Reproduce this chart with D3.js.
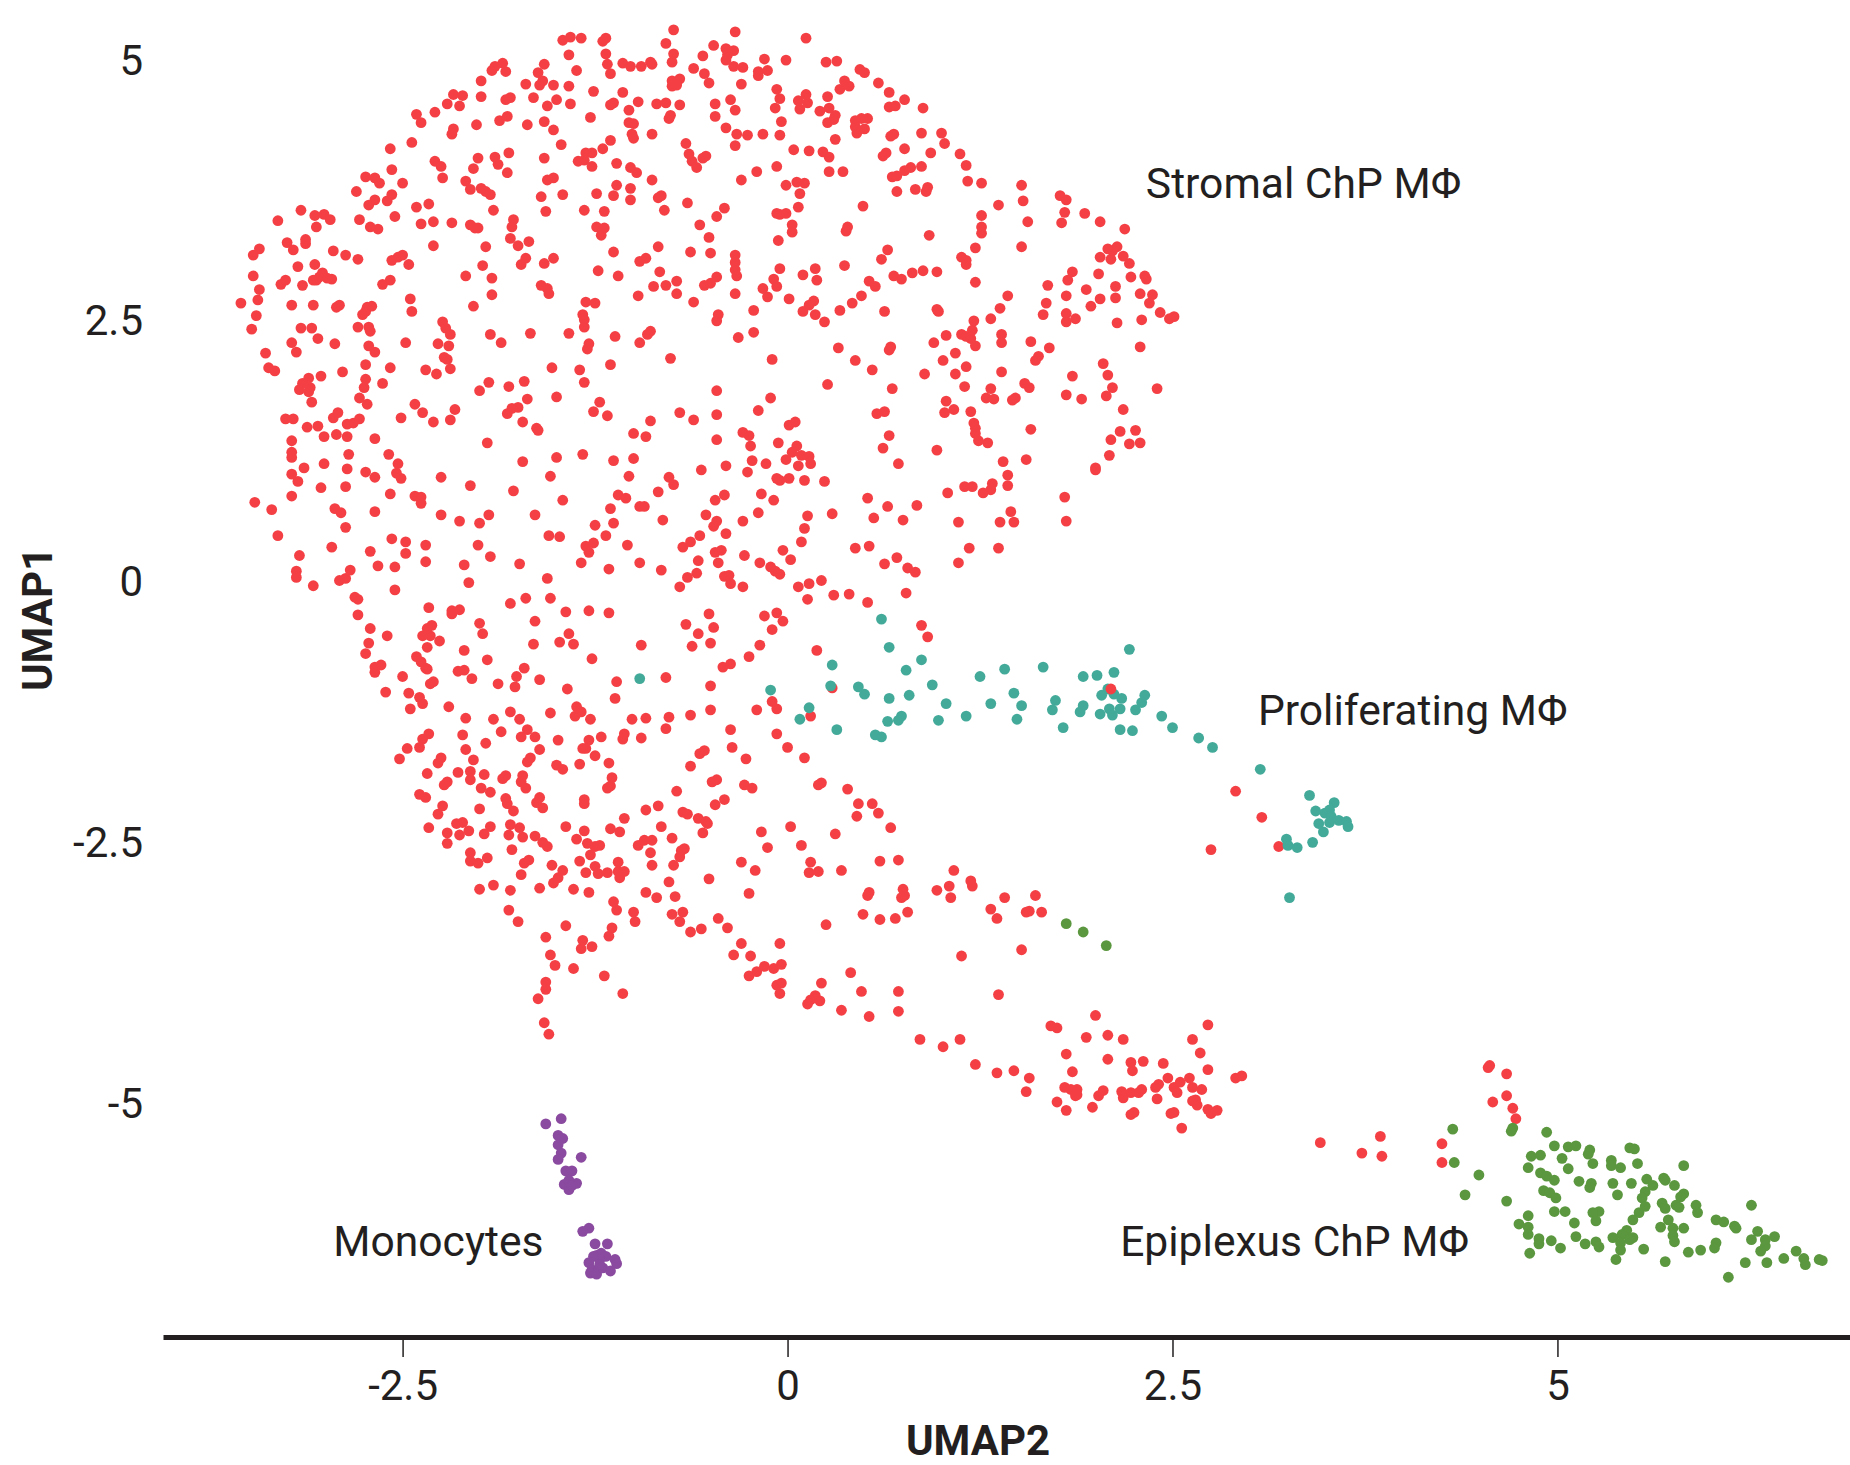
<!DOCTYPE html>
<html>
<head>
<meta charset="utf-8">
<script src="https://cdnjs.cloudflare.com/ajax/libs/d3/7.8.5/d3.min.js"></script>
<style>
body { margin: 0; background: #fff; }
text { font-family: Roboto, sans-serif; fill: #231f20; }
</style>
</head>
<body>
<svg id="chart"></svg>
<script>
// cells: [UMAP2, UMAP1]
var stromal = [
[-1.46,5.18],[-1.41,5.21],[-1.34,5.20],[-1.20,5.17],[-1.18,5.20],[-0.74,5.28],[-0.79,5.15],[-0.48,5.13],[-1.42,5.04],[-1.18,5.05],[-0.74,5.05],[-0.55,5.03],
[-1.85,4.96],[-1.90,4.93],[-1.92,4.89],[-1.83,4.88],[-1.58,4.95],[-1.62,4.87],[-1.37,4.89],[-1.17,4.95],[-1.15,4.86],[-1.07,4.96],[-1.02,4.93],[-0.95,4.93],[-0.89,4.97],[-0.88,4.95],[-0.75,4.97],[-0.61,4.91],[-0.54,4.86],[-0.51,4.77],[-0.70,4.81],[-0.75,4.79],[-0.72,4.75],[-0.75,4.74],
[-1.99,4.79],[-1.70,4.76],[-1.59,4.79],[-1.61,4.75],[-1.52,4.75],[-1.42,4.74],[-1.26,4.69],[-1.07,4.68],[-2.17,4.66],[-2.11,4.65],[-1.99,4.64],[-1.80,4.63],[-1.83,4.61],[-1.65,4.63],[-1.50,4.61],[-2.21,4.57],[-2.13,4.55],[-1.56,4.55],[-1.41,4.57],[-1.15,4.56],[-1.13,4.58],[-0.97,4.59],[-1.03,4.51],[-0.85,4.57],[-0.79,4.58],[-0.70,4.56],[-0.47,4.57],[-0.47,4.45],
[-2.41,4.47],[-2.29,4.49],[-2.38,4.39],[-1.28,4.44],[-0.76,4.46],[-0.77,4.43],[-1.82,4.45],[-1.87,4.41],[-2.02,4.37],[-1.69,4.37],[-1.58,4.40],[-1.52,4.32],[-1.03,4.39],[-1.00,4.38],[-2.17,4.33],[-2.18,4.28],[-1.01,4.28],[-1.00,4.24],[-0.88,4.28],[-2.44,4.20],[-1.15,4.22],[-1.47,4.18],[-0.66,4.19],[-1.20,4.14],[-2.58,4.14],[-1.81,4.10],[-1.90,4.06],[-2.01,4.05],[-1.31,4.10],[-1.27,4.10],[-0.64,4.09],[-0.53,4.07],[-0.55,4.05],[-1.58,4.05],[-2.29,4.02],[-1.36,4.02],[-1.32,4.03],[-0.62,4.02],[-1.11,4.00],[-2.25,3.97],[-1.88,3.99],[-2.04,3.95],[-1.27,3.97],[-1.02,3.96],[-0.59,3.96],[-2.57,3.94],[-1.82,3.91],[-0.98,3.91],
[-2.74,3.87],[-2.68,3.86],[-2.65,3.81],[-2.24,3.86],[-1.52,3.86],[-1.56,3.84],[-0.88,3.84],[-2.09,3.83],[-2.50,3.81],[-1.99,3.76],[-1.96,3.73],[-1.93,3.70],[-2.06,3.75],[-1.11,3.79],[-1.02,3.76],[-2.80,3.73],[-2.57,3.70],[-2.60,3.64],[-1.60,3.68],[-1.46,3.70],[-1.24,3.71],[-1.13,3.69],[-0.82,3.69],[-0.84,3.67],[-2.68,3.65],[-2.72,3.60],[-1.02,3.65],[-0.65,3.62],[-2.41,3.58],[-2.33,3.61],[-3.16,3.55],[-1.91,3.55],[-1.57,3.54],[-1.32,3.55],[-1.19,3.54],[-0.80,3.55],[-3.07,3.50],[-3.01,3.51],[-2.97,3.46],[-2.55,3.49],[-3.31,3.45],[-2.78,3.46],[-0.46,3.49],[-1.78,3.46],[-1.79,3.39],[-2.38,3.42],[-2.30,3.44],[-2.18,3.43],[-2.06,3.41],[-2.03,3.38],[-2.01,3.38],[-3.06,3.39],[-2.71,3.39],[-2.66,3.37],[-1.24,3.39],[-1.19,3.38],[-1.21,3.31],[-0.57,3.41],[-0.51,3.29],
[-3.13,3.27],[-3.13,3.23],[-3.25,3.24],[-1.80,3.28],[-1.75,3.21],[-1.68,3.25],[-2.30,3.21],[-1.96,3.20],[-3.43,3.18],[-3.47,3.12],[-3.21,3.17],[-2.95,3.16],[-2.87,3.12],[-2.79,3.08],[-1.13,3.15],[-0.84,3.20],[-0.63,3.15],[-0.50,3.14],[-2.50,3.12],[-2.53,3.10],[-2.57,3.07],[-2.46,3.03],[-0.92,3.09],[-0.96,3.06],[-1.70,3.09],[-1.73,3.03],[-1.52,3.09],[-1.58,3.04],[-3.07,3.03],[-3.18,3.01],[-1.98,3.02],[-3.02,2.95],[-2.99,2.90],[-2.96,2.89],[-3.04,2.91],[-3.08,2.88],[-3.06,2.88],[-0.83,2.96],[-1.23,2.97],[-1.10,2.92],[-2.09,2.92],[-3.47,2.92],[-0.46,2.91],[-1.92,2.90],[-2.58,2.88],[-2.63,2.84],[-3.26,2.88],[-3.29,2.84],[-3.15,2.83],[-0.72,2.87],[-0.79,2.83],[-0.87,2.82],[-0.72,2.75],[-0.50,2.85],[-0.54,2.83],[-1.60,2.83],[-1.56,2.80],[-1.55,2.75],[-3.43,2.79],[-3.44,2.69],[-1.92,2.74],[-0.97,2.73],[-2.45,2.70],[-3.55,2.66],[-1.31,2.67],[-1.25,2.66],[-0.61,2.67],[-3.22,2.64],[-3.08,2.64],[-2.91,2.64],[-2.93,2.62],[-2.70,2.63],[-2.73,2.62],[-2.74,2.58],[-2.76,2.55],[-2.04,2.63],[-2.44,2.58],[-3.45,2.54],[-1.33,2.55],[-1.32,2.50],[-1.32,2.43],[-0.45,2.55],[-0.46,2.49],
[-2.24,2.48],[-2.22,2.42],[-2.19,2.36],[-3.16,2.42],[-3.09,2.42],[-2.79,2.43],[-2.72,2.43],[-2.71,2.39],[-3.48,2.41],[-0.89,2.39],[-0.91,2.36],[-1.67,2.37],[-1.42,2.37],[-1.93,2.36],[-1.86,2.28],[-1.12,2.34],[-3.05,2.32],[-3.22,2.28],[-3.19,2.19],[-2.94,2.27],[-2.48,2.28],[-0.96,2.28],[-2.27,2.27],[-2.20,2.25],[-2.72,2.25],[-2.68,2.19],[-1.29,2.27],[-1.30,2.22],[-3.39,2.18],[-2.23,2.14],[-2.21,2.12],[-0.76,2.13],[-2.74,2.07],[-1.15,2.07],[-2.58,2.04],[-1.53,2.04],[-1.35,2.02],[-3.37,2.04],[-3.33,2.01],[-2.89,2.00],[-2.35,2.02],[-2.28,1.98],[-2.19,2.03],[-3.03,1.96],[-3.11,1.94],[-3.15,1.89],[-3.10,1.85],[-3.17,1.83],[-3.11,1.81],[-2.74,1.93],[-2.75,1.85],[-1.32,1.90],[-2.63,1.89],[-1.94,1.90],[-2.00,1.82],[-1.81,1.86],[-1.71,1.91],[-0.46,1.82],[-3.09,1.71],[-1.69,1.74],[-1.50,1.76],[-2.78,1.75],[-2.73,1.69],[-2.42,1.69],[-1.22,1.71],
[-0.34,5.26],[0.12,5.20],[-0.40,5.10],[-0.35,5.08],[-0.39,5.04],[-0.40,4.99],[-0.15,5.00],[-0.01,4.99],[0.25,4.97],[0.32,4.98],[-0.35,4.93],[-0.29,4.92],[-0.13,4.89],[-0.19,4.88],[-0.19,4.84],[0.47,4.90],[0.50,4.87],[-0.30,4.76],[0.59,4.77],[0.37,4.79],[0.40,4.74],[0.34,4.71],[-0.07,4.71],[-0.05,4.62],[0.66,4.68],[0.12,4.66],[0.07,4.60],[0.13,4.58],[0.08,4.52],[0.26,4.64],[-0.37,4.61],[0.76,4.61],[-0.08,4.53],[0.70,4.55],[0.66,4.54],[0.88,4.53],[-0.34,4.51],[0.27,4.53],[0.21,4.50],[0.31,4.46],[0.30,4.42],[0.26,4.39],[0.52,4.43],[0.48,4.43],[0.44,4.41],[0.44,4.35],[0.50,4.33],[0.45,4.29],[-0.04,4.40],[-0.40,4.34],[0.87,4.29],[1.00,4.29],[-0.33,4.28],[-0.26,4.27],[-0.16,4.28],[-0.05,4.27],[0.69,4.28],[0.67,4.26],[0.31,4.23],[1.02,4.19],[-0.34,4.17],[0.76,4.14],[0.04,4.13],[0.14,4.12],[0.23,4.11],[0.27,4.06],[0.93,4.10],[0.64,4.10],[0.62,4.07],[1.12,4.09],[1.16,3.98],[-0.07,3.97],[0.87,3.97],[0.80,3.96],[0.76,3.93],[-0.20,3.92],[0.27,3.92],[0.36,3.92],[0.71,3.88],[0.68,3.87],[-0.30,3.84],[1.17,3.83],[1.26,3.81],[1.52,3.79],[0.06,3.82],[0.11,3.81],[-0.01,3.79],[0.91,3.77],[0.90,3.73],[0.83,3.75],[0.71,3.73],[0.08,3.71],[1.77,3.69],[1.81,3.65],[1.53,3.64],[1.37,3.60],[0.49,3.59],[0.07,3.58],[-0.41,3.57],[1.80,3.53],[1.78,3.43],[1.93,3.52],[2.03,3.44],[-0.07,3.52],[-0.01,3.52],[-0.05,3.51],[1.26,3.50],[1.56,3.44],[0.03,3.41],[0.03,3.34],[1.26,3.39],[1.26,3.33],[0.39,3.39],[0.38,3.35],[2.19,3.37],[0.92,3.31],[-0.06,3.26],
[1.52,3.20],[1.22,3.19],[2.14,3.20],[2.08,3.18],[2.11,3.16],[0.65,3.17],[0.61,3.08],[-0.34,3.12],[-0.34,3.05],[-0.34,2.98],[-0.33,2.92],[1.13,3.10],[1.16,3.07],[1.16,3.03],[2.03,3.10],[2.10,3.08],[2.18,3.11],[2.22,3.04],[0.37,3.02],[-0.05,2.99],[0.18,2.99],[0.88,2.97],[0.97,2.96],[0.81,2.95],[0.69,2.92],[0.74,2.89],[1.85,2.96],[1.82,2.88],[2.02,2.94],[2.23,2.91],[2.32,2.92],[2.33,2.89],[0.10,2.93],[0.19,2.88],[-0.09,2.89],[-0.07,2.82],[-0.16,2.80],[-0.13,2.72],[0.53,2.87],[0.57,2.82],[1.22,2.86],[1.69,2.83],[2.13,2.82],[1.94,2.79],[-0.34,2.75],[1.43,2.73],[1.81,2.73],[2.03,2.70],[2.13,2.71],[2.29,2.75],[2.37,2.74],[0.48,2.73],[0.42,2.66],[0.34,2.59],[0.01,2.70],[0.17,2.68],[0.14,2.64],[0.10,2.58],[0.18,2.55],[2.35,2.66],[1.68,2.66],[1.97,2.63],[1.38,2.61],[-0.22,2.59],[0.63,2.58],[0.97,2.60],[0.98,2.58],[2.42,2.57],[2.51,2.53],[2.48,2.51],[1.66,2.55],[1.81,2.56],[1.87,2.51],[1.81,2.48],[1.32,2.51],[1.21,2.49],[1.20,2.40],[0.24,2.48],[2.14,2.47],[2.30,2.50],[-0.22,2.38],[1.13,2.36],[1.16,2.34],[1.19,2.32],[1.22,2.25],[1.03,2.35],[1.39,2.36],[1.39,2.28],[-0.32,2.33],[0.95,2.28],[1.58,2.29],[1.70,2.23],[0.33,2.23],[0.67,2.24],[0.66,2.21],[2.29,2.24],[1.09,2.18],[1.01,2.11],[1.63,2.15],[1.61,2.11],[-0.10,2.12],[0.44,2.11],[2.05,2.08],[1.16,2.05],[1.09,1.98],[0.55,2.02],[1.39,2.00],[0.89,1.98],[2.08,1.97],[1.85,1.96],[0.26,1.88],[1.15,1.86],[1.54,1.89],[1.57,1.85],[1.32,1.84],[2.11,1.85],[2.40,1.84],[0.68,1.84],[-0.11,1.75],[1.29,1.75],[1.34,1.74],[1.48,1.75],[1.46,1.73],[1.81,1.78],[1.91,1.74],[2.07,1.77],[1.03,1.72],
[-0.70,1.61],[-0.61,1.54],[-0.46,1.59],[-1.26,1.62],[-1.17,1.58],[-0.89,1.53],[-2.16,1.64],[-2.19,1.54],[-2.30,1.52],[-2.37,1.61],[-2.51,1.56],[-1.75,1.66],[-1.79,1.65],[-1.82,1.60],[-1.72,1.52],[-1.63,1.46],[-1.62,1.44],[-3.26,1.55],[-3.21,1.55],[-2.92,1.61],[-2.95,1.56],[-2.78,1.55],[-2.82,1.51],[-2.86,1.50],[-3.12,1.47],[-3.05,1.48],[-3.01,1.38],[-2.93,1.40],[-2.86,1.38],[-2.68,1.36],[-3.22,1.34],[-1.00,1.41],[-0.92,1.38],[-0.46,1.35],[-1.95,1.32],[-3.22,1.23],[-3.22,1.18],[-2.85,1.21],[-2.59,1.21],[-1.33,1.21],[-1.50,1.18],[-1.72,1.14],[-1.13,1.15],[-1.00,1.17],[-2.53,1.12],[-3.01,1.12],[-3.14,1.08],[-2.86,1.07],[-0.56,1.06],[-2.74,1.04],[-2.68,0.99],[-2.54,1.03],[-2.51,0.98],[-3.22,1.02],[-3.18,0.95],[-1.54,1.00],[-1.03,1.00],[-2.25,0.99],[-0.77,0.99],[-0.74,0.92],[-2.06,0.91],[-2.87,0.90],[-3.03,0.89],[-1.78,0.86],[-0.84,0.85],[-2.58,0.83],[-3.22,0.81],[-2.42,0.81],[-2.38,0.80],[-2.38,0.74],[-1.10,0.82],[-1.05,0.79],[-0.47,0.77],[-1.46,0.77],[-3.46,0.75],[-3.35,0.68],[-2.94,0.69],[-2.90,0.65],[-2.68,0.66],[-0.96,0.71],[-0.93,0.71],[-1.15,0.69],[-2.25,0.63],[-1.94,0.63],[-2.00,0.55],[-2.13,0.57],[-1.64,0.63],[-0.81,0.58],[-0.53,0.63],[-0.46,0.57],[-0.48,0.52],[-1.13,0.55],[-1.25,0.53],[-2.87,0.51],[-1.18,0.43],[-0.57,0.43],[-3.31,0.43],[-1.55,0.43],[-1.48,0.42],[-2.57,0.40],[-2.48,0.37],[-2.48,0.26],[-2.35,0.34],[-2.35,0.18],[-1.26,0.36],[-1.31,0.33],[-1.29,0.27],[-0.63,0.37],[-0.68,0.32],[-1.04,0.34],[-2.01,0.34],[-1.93,0.23],[-2.96,0.32],[-2.71,0.28],[-0.47,0.27],[-3.17,0.24],[-0.58,0.19],[-0.45,0.17],[-1.34,0.17],[-0.96,0.17],[-2.66,0.14],[-2.55,0.13],[-2.10,0.15],[-1.74,0.16],[-1.16,0.11],[-0.82,0.10],[-2.84,0.10],[-3.19,0.09],[-3.19,0.03],[-0.59,0.07],[-0.65,0.03],[-0.70,-0.06],[-2.87,0.02],[-2.91,0.00],[-1.56,0.02],[-2.07,-0.02],[-3.08,-0.05],[-2.55,-0.09],
[-2.81,-0.16],[-2.79,-0.18],[-1.70,-0.17],[-1.80,-0.22],[-1.54,-0.17],[-2.33,-0.26],[-2.13,-0.28],[-2.18,-0.29],[-2.18,-0.32],[-1.44,-0.30],[-1.29,-0.29],[-1.16,-0.31],[-2.79,-0.33],[-0.51,-0.32],[-0.66,-0.42],[-1.64,-0.39],[-2.00,-0.41],[-1.98,-0.51],[-2.31,-0.43],[-2.34,-0.46],[-0.48,-0.45],[-2.71,-0.46],[-0.58,-0.51],[-1.42,-0.51],[-1.48,-0.59],[-1.39,-0.61],[-2.60,-0.53],[-2.37,-0.53],[-2.32,-0.53],[-2.26,-0.58],[-2.72,-0.60],[-2.74,-0.70],[-1.65,-0.61],[-0.95,-0.62],[-0.50,-0.60],[-0.62,-0.63],[-2.34,-0.64],[-2.10,-0.67],[-2.41,-0.73],[-2.38,-0.78],[-2.35,-0.84],[-2.34,-0.85],[-1.27,-0.75],[-1.95,-0.76],[-2.64,-0.81],[-2.68,-0.83],[-2.68,-0.88],[-1.71,-0.84],[-1.76,-0.92],[-1.77,-1.02],[-2.10,-0.86],[-2.14,-0.87],[-2.50,-0.92],[-2.05,-0.94],[-0.79,-0.93],[-1.61,-0.95],[-2.30,-0.97],[-2.32,-0.99],[-1.88,-0.99],[-1.11,-0.97],[-0.50,-1.01],[-1.43,-1.04],[-2.61,-1.07],[-2.46,-1.08],[-2.39,-1.12],[-2.37,-1.18],[-1.12,-1.13],[-2.20,-1.21],[-2.45,-1.23],[-1.37,-1.21],[-1.34,-1.26],[-1.38,-1.30],[-0.50,-1.24],[-1.80,-1.26],[-1.74,-1.33],[-1.54,-1.27],[-2.09,-1.32],[-1.91,-1.33],[-1.28,-1.33],[-1.01,-1.33],[-0.92,-1.32],[-0.77,-1.31],[-0.63,-1.29],[-1.86,-1.45],[-1.69,-1.43],[-1.73,-1.50],[-1.64,-1.50],[-0.79,-1.42],[-2.33,-1.47],[-2.37,-1.52],[-2.11,-1.48],[-1.06,-1.47],[-1.07,-1.52],[-1.21,-1.50],[-0.95,-1.51],[-1.49,-1.53],[-1.29,-1.53],[-1.31,-1.61],[-1.33,-1.61],[-1.96,-1.56],[-2.47,-1.61],[-2.39,-1.60],[-2.09,-1.62],[-1.61,-1.62],[-0.54,-1.63],[-0.57,-1.66],[-1.25,-1.68],[-2.25,-1.70],[-2.27,-1.75],[-2.52,-1.71],[-2.04,-1.72],[-1.67,-1.70],[-1.69,-1.74],[-1.16,-1.75],[-1.35,-1.76],[-1.50,-1.77],[-1.46,-1.81],[-0.63,-1.78],[-2.06,-1.83],[-2.14,-1.84],[-2.34,-1.85],[-1.97,-1.86],[-1.83,-1.87],[-1.85,-1.90],[-1.72,-1.87],[-1.73,-1.93],[-1.70,-1.99],[-2.06,-1.91],[-1.14,-1.89],[-1.15,-1.97],[-1.17,-1.99],[-2.21,-1.93],[-2.23,-1.96],[-0.46,-1.91],[-0.49,-1.93],[-1.99,-1.99],
[-2.39,-2.05],[-2.35,-2.08],[-2.24,-2.16],[-2.27,-2.24],[-2.00,-2.19],[-1.83,-2.09],[-1.82,-2.14],[-1.78,-2.21],[-1.61,-2.08],[-1.63,-2.13],[-1.59,-2.18],[-1.32,-2.10],[-1.32,-2.14],[-1.93,-2.03],[-0.84,-2.16],[-0.92,-2.20],[-0.41,-2.10],[-0.47,-2.15],[-0.68,-2.22],[-0.65,-2.24],[-0.72,-2.02],[-1.06,-2.28],[-0.58,-2.28],[-0.53,-2.31],[-0.52,-2.33],[-0.55,-2.42],[-0.82,-2.36],[-2.33,-2.37],[-2.15,-2.33],[-2.11,-2.32],[-2.07,-2.40],[-2.13,-2.44],[-2.21,-2.42],[-2.21,-2.52],[-1.93,-2.36],[-1.97,-2.43],[-1.80,-2.34],[-1.74,-2.37],[-1.81,-2.44],[-1.72,-2.46],[-1.44,-2.36],[-1.32,-2.40],[-1.37,-2.48],[-1.15,-2.38],[-1.09,-2.41],[-1.64,-2.45],[-1.59,-2.51],[-1.56,-2.55],[-1.30,-2.52],[-1.25,-2.55],[-1.22,-2.54],[-1.28,-2.63],[-0.75,-2.47],[-0.88,-2.49],[-0.93,-2.49],[-0.97,-2.54],[-0.17,-2.41],[0.02,-2.36],[0.31,-2.43],[-0.13,-2.56],[0.09,-2.54],[-1.79,-2.58],[-0.67,-2.57],[-0.69,-2.59],[-0.70,-2.65],[-0.89,-2.61],[-2.06,-2.61],[-2.06,-2.69],[-2.01,-2.71],[-1.95,-2.66],[-1.68,-2.68],[-1.71,-2.71],[-1.53,-2.73],[-1.35,-2.69],[-1.25,-2.74],[-1.10,-2.70],[-0.88,-2.73],[-0.74,-2.73],[-0.30,-2.70],[-0.21,-2.78],[0.15,-2.70],[0.14,-2.80],[0.20,-2.79],[0.35,-2.78],[0.60,-2.69],[-1.46,-2.78],[-1.49,-2.85],[-1.52,-2.90],[-1.31,-2.80],[-1.23,-2.81],[-1.17,-2.80],[-1.10,-2.79],[-1.06,-2.79],[-1.09,-2.85],[-1.73,-2.82],[-0.51,-2.86],[-0.77,-2.89],[-1.91,-2.92],[-2.00,-2.96],[-1.80,-2.97],[-1.61,-2.95],[-1.39,-2.96],[-1.29,-2.99],[-0.92,-2.99],[-0.85,-3.04],[-0.73,-3.03],[-0.25,-3.00],[0.53,-2.99],[0.52,-3.02],[-1.13,-3.08],[-1.11,-3.16],[-1.81,-3.16],[-1.75,-3.27],[-1.00,-3.18],[-0.99,-3.27],[-0.68,-3.18],[-0.75,-3.20],[-0.70,-3.27],[-0.45,-3.24],[-0.39,-3.33],[0.49,-3.20],[0.60,-3.25],[-1.44,-3.31],[0.25,-3.30],[-1.14,-3.33],[-1.16,-3.41],[-0.56,-3.34],[-0.63,-3.37],[-1.57,-3.42],[-1.33,-3.45],[-1.34,-3.53],[-1.27,-3.51],[-0.30,-3.48],[-0.35,-3.59],[-0.24,-3.60],[-0.05,-3.48],[-1.54,-3.59],[-1.51,-3.69],[-0.04,-3.68],[-0.15,-3.70],[-0.09,-3.72],[-0.20,-3.75],[-0.25,-3.79],[-1.39,-3.72],[-1.19,-3.79],[0.41,-3.76],[-1.57,-3.85],[-1.57,-3.92],[-1.62,-4.01],[-0.04,-3.86],[-0.05,-3.96],[-0.07,-3.88],[0.22,-3.86],[0.48,-3.94],[-1.07,-3.96],[0.18,-3.98],[0.15,-4.02],[0.21,-4.03],[0.13,-4.06],[0.35,-4.12],[0.53,-4.18],[-1.58,-4.24],[-1.55,-4.35],[0.46,-2.14],[0.55,-2.14],[0.59,-2.23],[0.45,-2.26],
[-0.19,1.63],[0.63,1.62],[0.58,1.60],[1.02,1.61],[1.08,1.64],[1.19,1.62],[2.18,1.64],[0.05,1.52],[0.01,1.49],[1.21,1.51],[1.22,1.46],[1.22,1.41],[1.24,1.34],[1.30,1.32],[1.58,1.45],[2.26,1.44],[2.16,1.43],[2.10,1.35],[2.22,1.31],[2.29,1.32],[-0.29,1.42],[-0.25,1.39],[-0.24,1.29],[0.66,1.39],[-0.06,1.32],[0.62,1.27],[0.97,1.25],[0.06,1.29],[0.03,1.23],[0.09,1.20],[0.14,1.19],[2.09,1.20],[1.55,1.16],[-0.01,1.16],[0.07,1.10],[0.15,1.12],[-0.23,1.15],[-0.14,1.12],[1.40,1.14],[-0.40,1.10],[0.72,1.12],[2.00,1.08],[2.00,1.06],[-0.26,1.04],[1.43,1.01],[1.43,0.91],[-0.07,0.98],[-0.05,0.96],[0.01,0.98],[0.11,0.96],[0.24,0.95],[1.15,0.90],[1.20,0.90],[1.33,0.93],[1.32,0.87],[1.27,0.84],[1.04,0.84],[-0.41,0.82],[-0.17,0.83],[-0.09,0.77],[1.80,0.80],[0.52,0.79],[0.65,0.71],[0.84,0.72],[-0.19,0.65],[0.13,0.62],[0.29,0.64],[1.45,0.66],[0.56,0.60],[0.75,0.58],[1.11,0.56],[1.38,0.56],[1.47,0.56],[1.81,0.57],[-0.29,0.57],[0.11,0.50],[-0.40,0.45],[0.09,0.37],[-0.03,0.29],[0.44,0.31],[0.53,0.33],[1.18,0.31],[1.37,0.31],[-0.43,0.29],[-0.28,0.24],[0.71,0.22],[0.02,0.20],[-0.18,0.17],[0.63,0.16],[1.11,0.17],[0.78,0.12],[0.83,0.08],[-0.11,0.13],[-0.08,0.09],[-0.05,0.06],[-0.38,0.05],[-0.41,0.04],[-0.37,-0.03],[-0.29,-0.06],[0.22,0.00],[0.14,-0.03],[0.07,-0.06],[0.30,-0.14],[0.40,-0.13],[0.52,-0.21],[0.13,-0.18],[0.77,-0.12],[-0.07,-0.31],[-0.15,-0.34],[-0.03,-0.39],[-0.10,-0.47],[0.87,-0.43],[0.91,-0.54],[-0.18,-0.62],[0.19,-0.67],[-0.25,-0.73],[-0.37,-0.80],[-0.42,-0.83],[0.29,-1.03],[-0.10,-1.16],[-0.07,-1.23],[-0.20,-1.24],[0.15,-1.30],[-0.37,-1.43],[-0.07,-1.47],[0.00,-1.60],[-0.36,-1.60],[-0.27,-1.71],[0.11,-1.70],[-0.28,-1.96],[-0.23,-1.99],[0.22,-1.94],[0.20,-1.96],[0.39,-2.00],
[2.91,-2.02],[3.08,-2.27],[2.75,-2.58],[3.19,-2.55],[0.67,-2.37],[0.72,-2.68],[1.08,-2.78],[1.19,-2.88],[1.20,-2.93],[1.05,-2.93],[1.06,-3.04],[0.97,-2.97],[0.75,-2.96],[0.76,-3.02],[0.74,-3.04],[1.41,-3.04],[1.61,-3.02],[1.32,-3.15],[1.36,-3.24],[1.57,-3.17],[1.55,-3.18],[1.65,-3.18],[0.78,-3.18],[0.70,-3.24],[1.52,-3.54],[1.13,-3.60],[1.37,-3.97],[0.72,-3.94],[0.72,-4.13],[2.00,-4.17],[1.71,-4.27],[1.75,-4.29],[2.73,-4.26],[0.86,-4.40],[1.01,-4.47],[1.12,-4.40],[1.94,-4.38],[2.08,-4.36],[2.18,-4.40],[2.63,-4.40],[2.68,-4.53],[1.81,-4.54],[2.08,-4.59],[2.23,-4.62],[2.31,-4.61],[2.44,-4.63],[2.24,-4.70],[1.22,-4.64],[2.73,-4.69],[1.36,-4.72],[1.47,-4.70],[1.57,-4.77],[1.85,-4.71],[2.95,-4.75],[2.91,-4.77],[2.47,-4.77],[2.61,-4.77],[2.41,-4.83],[2.39,-4.86],[2.55,-4.81],[2.51,-4.86],[2.53,-4.91],[2.63,-4.86],[2.69,-4.88],[1.80,-4.86],[1.84,-4.88],[1.88,-4.88],[1.88,-4.93],[1.87,-4.94],[1.55,-4.90],[2.05,-4.89],[2.02,-4.94],[2.17,-4.90],[2.18,-4.96],[2.23,-4.91],[2.28,-4.91],[2.30,-4.88],[2.40,-4.97],[2.65,-4.98],[2.63,-4.99],[2.66,-5.03],[1.75,-5.00],[1.81,-5.08],[1.98,-5.05],[2.79,-5.08],[2.73,-5.07],[2.75,-5.11],[2.25,-5.10],[2.23,-5.12],[2.51,-5.10],[2.49,-5.11],[2.56,-5.25],
[4.56,-4.65],[4.55,-4.67],[4.67,-4.73],[4.67,-4.94],[4.58,-5.00],[4.71,-5.06],[4.73,-5.16],[3.85,-5.33],[3.46,-5.39],[3.73,-5.49],[3.86,-5.52],[4.25,-5.40],[4.25,-5.58]
];

var proliferating = [
[-0.96,-0.94],[0.61,-0.37],[0.66,-0.64],[2.22,-0.66],[0.87,-0.76],[0.29,-0.81],[0.77,-0.86],[1.41,-0.85],[1.66,-0.83],[1.25,-0.92],[2.12,-0.88],[1.92,-0.92],[2.01,-0.91],[0.28,-1.01],[0.46,-1.02],[0.50,-1.09],[0.94,-1.00],[-0.11,-1.05],[2.08,-1.04],[2.04,-1.10],[2.12,-1.09],[2.17,-1.13],[1.47,-1.08],[0.79,-1.10],[0.66,-1.13],[2.32,-1.10],[2.30,-1.17],[1.74,-1.15],[1.72,-1.24],[1.92,-1.20],[1.90,-1.26],[1.03,-1.18],[1.32,-1.18],[1.52,-1.20],[0.14,-1.22],[2.09,-1.23],[2.16,-1.23],[2.11,-1.29],[2.26,-1.24],[2.03,-1.28],[1.16,-1.30],[2.43,-1.30],[0.74,-1.30],[0.72,-1.34],[0.65,-1.35],[0.08,-1.33],[0.98,-1.34],[1.49,-1.33],[1.79,-1.41],[2.50,-1.41],[0.32,-1.43],[2.16,-1.43],[2.24,-1.44],[0.57,-1.48],[0.61,-1.50],[2.67,-1.51],[2.76,-1.60],[3.07,-1.81],
[3.39,-2.06],[3.55,-2.13],[3.43,-2.21],[3.49,-2.23],[3.52,-2.20],[3.53,-2.26],[3.45,-2.33],[3.48,-2.41],[3.52,-2.32],[3.58,-2.30],[3.63,-2.31],[3.64,-2.36],[3.24,-2.48],[3.25,-2.54],[3.31,-2.56],[3.41,-2.51],[3.26,-3.04]
];

var epiplexus = [
[1.81,-3.29],[1.92,-3.37],[2.07,-3.50],
[4.32,-5.26],[4.71,-5.25],[4.70,-5.28],[4.93,-5.29],[4.33,-5.58],[4.49,-5.70],[4.40,-5.89],[4.67,-5.95],[4.98,-5.42],[5.07,-5.43],[5.12,-5.42],[5.21,-5.46],[5.20,-5.50],[5.47,-5.44],[5.50,-5.45],[4.83,-5.52],[4.89,-5.51],[5.03,-5.54],[5.35,-5.56],[5.35,-5.61],[5.23,-5.59],[5.52,-5.59],[5.41,-5.63],[5.82,-5.61],[4.81,-5.63],[5.07,-5.64],[4.89,-5.68],[4.93,-5.71],[4.98,-5.75],[5.58,-5.74],[5.69,-5.73],[5.70,-5.75],[5.14,-5.76],[5.22,-5.78],[5.21,-5.82],[5.36,-5.78],[5.48,-5.78],[5.62,-5.80],[5.76,-5.80],[4.91,-5.85],[4.95,-5.87],[4.99,-5.92],[5.57,-5.86],[5.55,-5.92],[5.82,-5.88],[5.80,-5.91],[5.39,-5.89],[6.26,-5.99],[5.68,-5.97],[5.70,-6.02],[5.77,-5.99],[5.79,-6.01],[5.57,-6.00],[5.90,-5.99],[5.91,-6.06],[4.98,-6.05],[5.05,-6.05],[5.27,-6.05],[5.23,-6.06],[5.53,-6.06],[4.81,-6.09],[5.72,-6.13],[5.49,-6.13],[5.25,-6.14],[6.03,-6.13],[6.08,-6.15],[4.75,-6.17],[4.81,-6.20],[5.11,-6.16],[6.15,-6.19],[6.16,-6.21],[5.67,-6.20],[5.75,-6.21],[5.82,-6.21],[4.81,-6.27],[6.30,-6.24],[5.45,-6.23],[5.42,-6.27],[5.75,-6.28],[5.12,-6.29],[6.41,-6.29],[4.88,-6.31],[4.88,-6.36],[5.36,-6.30],[5.49,-6.30],[5.47,-6.32],[6.26,-6.32],[6.35,-6.32],[6.35,-6.38],[4.96,-6.33],[5.25,-6.34],[5.18,-6.36],[5.27,-6.39],[5.41,-6.35],[5.41,-6.42],[5.76,-6.34],[6.03,-6.35],[6.02,-6.40],[5.02,-6.40],[5.56,-6.41],[5.93,-6.42],[5.85,-6.44],[6.32,-6.43],[6.55,-6.43],[4.82,-6.45],[5.38,-6.51],[6.60,-6.50],[6.61,-6.56],[6.47,-6.50],[6.70,-6.51],[6.72,-6.52],[5.70,-6.53],[6.22,-6.54],[6.36,-6.54],[6.11,-6.68]
];

var monocytes = [
[-1.47,-5.16],[-1.57,-5.21],[-1.49,-5.32],[-1.46,-5.35],[-1.49,-5.41],[-1.47,-5.49],[-1.49,-5.55],[-1.34,-5.53],[-1.44,-5.66],[-1.40,-5.66],[-1.45,-5.79],[-1.42,-5.75],[-1.37,-5.78],[-1.42,-5.84],[-1.40,-5.80],[-1.29,-6.21],[-1.33,-6.24],[-1.25,-6.36],[-1.17,-6.36],[-1.24,-6.47],[-1.21,-6.45],[-1.18,-6.48],[-1.22,-6.51],[-1.26,-6.48],[-1.12,-6.51],[-1.11,-6.55],[-1.29,-6.54],[-1.27,-6.61],[-1.28,-6.64],[-1.24,-6.65],[-1.20,-6.59],[-1.15,-6.62],[-1.22,-6.56]
];

// one stromal cell sits on top of the teal group
var stromalOnTop = [[2.10,-1.04]];

var xTicks = [-2.5, 0, 2.5, 5];
var xTickLabels = ["-2.5", "0", "2.5", "5"];
var yTicks = [-5, -2.5, 0, 2.5, 5];
var yTickLabels = ["-5", "-2.5", "0", "2.5", "5"];

var width = 1850, height = 1465;
var red = "#f44045", teal = "#43aa9a", green = "#5b973e", purple = "#8a4a9f", ink = "#231f20";

var svg = d3.select("#chart").attr("width", width).attr("height", height);

var x = d3.scaleLinear().domain([-4.056, 6.9]).range([163, 1850]);
var y = d3.scaleLinear().domain([-7.253, 5.566]).range([1337, 0]);

function drawCells(cells, color) {
    svg.append("g").selectAll("circle")
        .data(cells)
        .enter().append("circle")
        .attr("cx", function(d){ return x(d[0]); })
        .attr("cy", function(d){ return y(d[1]); })
        .attr("r", 5.4)
        .attr("fill", color);
}

drawCells(stromal, red);
drawCells(proliferating, teal);
drawCells(epiplexus, green);
drawCells(monocytes, purple);
drawCells(stromalOnTop, red);

var xAxis = svg.append("g").attr("transform", "translate(0,1337)")
    .call(d3.axisBottom(x).tickValues(xTicks).tickSize(20).tickSizeOuter(0).tickPadding(13)
        .tickFormat(function(d, i){ return xTickLabels[i]; }));
xAxis.select(".domain").attr("stroke", ink).attr("stroke-width", 5);
xAxis.selectAll(".tick line").attr("stroke", ink).attr("stroke-width", 1.5);
xAxis.selectAll(".tick text").style("font-family", "Roboto, sans-serif").style("font-size", "42px").attr("fill", ink);

var yAxis = svg.append("g").attr("transform", "translate(143,0)")
    .call(d3.axisLeft(y).tickValues(yTicks).tickSize(0).tickPadding(0)
        .tickFormat(function(d, i){ return yTickLabels[i]; }));
yAxis.select(".domain").remove();
yAxis.selectAll(".tick text").attr("dy", "0.36em").style("font-family", "Roboto, sans-serif").style("font-size", "42px").attr("fill", ink);

svg.append("text").attr("x", 978).attr("y", 1455).attr("text-anchor", "middle")
    .style("font-size", "42px").style("font-weight", 700).text("UMAP2");
svg.append("text").attr("transform", "translate(52,619) rotate(-90)").attr("text-anchor", "middle")
    .style("font-size", "42px").style("font-weight", 700).text("UMAP1");

var labelNames = ["Stromal ChP MΦ", "Proliferating MΦ", "Monocytes", "Epiplexus ChP MΦ"];
var labelX = [2.327, 3.055, -2.95, 2.16];
var labelY = [3.67, -1.39, -6.48, -6.48];
svg.append("g").selectAll("text")
    .data(labelNames)
    .enter().append("text")
    .attr("x", function(d, i){ return x(labelX[i]); })
    .attr("y", function(d, i){ return y(labelY[i]); })
    .style("font-size", "42.6px")
    .text(function(d){ return d; });
</script>
</body>
</html>
